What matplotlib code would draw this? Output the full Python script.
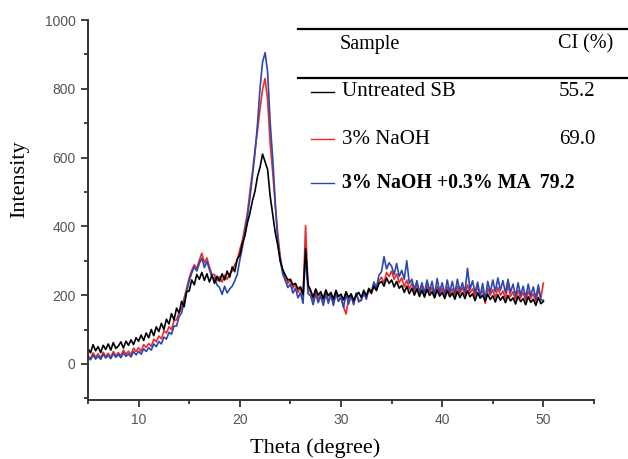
import numpy as np
import matplotlib.pyplot as plt

# XRD patterns, 2-theta from 5 to 50 in 0.25 steps
theta = np.linspace(5, 50, 181)

untreated = [
    45, 32, 56, 38, 50, 33, 54, 42, 58, 40, 62, 45, 52, 64, 46, 66, 54, 70, 56, 76,
    66, 84, 68, 90, 76, 100, 82, 108, 94, 118, 100, 130, 116, 146, 128, 162,
    148, 182, 166, 210, 212, 244, 230, 260, 246, 266, 243, 262, 238, 258, 234, 255,
    240, 262, 244, 270, 252, 282, 268, 305, 316, 350, 372, 410, 438, 475, 502, 545,
    572, 610, 588, 565, 488, 435, 382, 345, 298, 274, 258, 244, 246, 230, 234, 218,
    224, 202, 335, 230, 214, 194, 218, 200, 210, 190, 215, 198, 208, 188, 214, 196,
    203, 186, 210, 193, 204, 184, 200, 208, 193, 214, 198, 218, 206, 226, 213, 234,
    240, 226, 250, 234, 244, 224, 240, 220, 228, 208, 226, 204, 220, 200, 218, 196,
    214, 194, 217, 199, 210, 192, 215, 197, 208, 190, 213, 195, 206, 188, 211, 193,
    207, 190, 213, 195, 204, 184, 207, 191, 200, 182, 203, 187, 198, 180, 201, 185,
    196, 178, 199, 183, 192, 174, 197, 181, 190, 172, 195, 179, 188, 170, 193, 175,
    182]

naoh = [
    24, 15, 32, 20, 29, 17, 34, 22, 31, 19, 36, 24, 33, 23, 40, 28, 37, 27, 46, 36,
    47, 37, 56, 48, 59, 51, 72, 64, 81, 73, 96, 90, 108, 100, 126, 128,
    150, 160, 192, 220, 250, 272, 288, 278, 302, 322, 294, 308, 282, 260, 260, 242,
    254, 238, 258, 246, 262, 270, 288, 303, 332, 358, 398, 438, 502, 558, 622, 678,
    742, 798, 830, 768, 642, 558, 462, 378, 312, 268, 254, 234, 244, 220, 232, 208,
    220, 196, 402, 218, 208, 184, 214, 188, 204, 178, 208, 184, 200, 174, 204, 182,
    196, 166, 145, 190, 200, 176, 204, 186, 184, 206, 190, 216, 204, 228, 216, 242,
    252, 236, 266, 254, 270, 246, 262, 236, 250, 224, 244, 218, 234, 210, 230, 204,
    226, 200, 230, 208, 222, 196, 226, 204, 220, 194, 224, 202, 218, 196, 226, 204,
    222, 200, 230, 206, 218, 196, 224, 202, 214, 176, 220, 200, 216, 192, 222, 200,
    212, 190, 230, 196, 210, 186, 214, 192, 208, 184, 212, 190, 204, 182, 216, 192,
    235]

naoh_ma = [
    18, 12, 26, 14, 23, 13, 28, 17, 25, 15, 30, 19, 27, 18, 32, 22, 29, 20, 36, 26,
    37, 28, 44, 36, 47, 40, 58, 50, 65, 58, 78, 72, 92, 86, 110, 110,
    138, 148, 182, 210, 242, 264, 282, 270, 292, 308, 280, 298, 274, 252, 250, 230,
    222, 202, 226, 206, 218, 226, 242, 260, 302, 338, 382, 428, 482, 548, 612, 698,
    802, 878, 905, 848, 702, 598, 472, 358, 302, 260, 242, 222, 232, 206, 220, 192,
    207, 176, 320, 204, 198, 172, 204, 178, 198, 170, 204, 176, 202, 170, 208, 182,
    194, 164, 204, 174, 198, 172, 206, 180, 186, 208, 188, 220, 210, 238, 222, 258,
    268, 312, 276, 294, 284, 260, 292, 254, 272, 246, 300, 234, 246, 216, 242, 208,
    236, 206, 244, 212, 240, 200, 248, 210, 236, 202, 244, 208, 240, 204, 246, 212,
    236, 208, 278, 216, 242, 206, 238, 196, 234, 186, 240, 208, 244, 210, 250, 214,
    242, 206, 246, 208, 232, 196, 236, 200, 226, 192, 232, 198, 224, 190, 230, 186,
    185]

samples = ["Untreated SB", "3% NaOH", "3% NaOH +0.3% MA  79.2"]
ci_values = ["55.2", "69.0", ""]
colors = ["#000000", "#ee2a2a", "#2a48b0"]

fig = plt.figure(figsize=(6.28, 4.59), dpi=100)
ax = fig.add_axes([88/628, 1-400/459, (594-88)/628, 380/459])

ax.plot(theta, naoh, color=colors[1], lw=1.2)
ax.plot(theta, naoh_ma, color=colors[2], lw=1.2)
ax.plot(theta, untreated, color=colors[0], lw=1.2)

ax.set_xlim(5, 55)
ax.set_ylim(-105, 1000)
ax.set_xticks([10, 20, 30, 40, 50])
ax.set_xticks([5, 15, 25, 35, 45, 55], minor=True)
ax.set_yticks([0, 200, 400, 600, 800, 1000])
ax.set_yticks([-100, 100, 300, 500, 700, 900], minor=True)
for s in ['top', 'right']:
    ax.spines[s].set_visible(False)
for s in ['left', 'bottom']:
    ax.spines[s].set_color('#333333')
    ax.spines[s].set_linewidth(1.4)
ax.tick_params(which='major', length=5, width=1.3, color='#333333',
               labelsize=10, labelcolor='#555555', pad=4)
ax.tick_params(which='minor', length=3, width=1.3, color='#333333')
for lab in ax.get_xticklabels() + ax.get_yticklabels():
    lab.set_family('Liberation Sans')

serif = 'Liberation Serif'
fig.text(20/628, 1-179/459, "Intensity", rotation=90, ha='center', va='center',
         family=serif, fontsize=16)
fig.text(315/628, 1-453/459, "Theta (degree)", ha='center', va='baseline',
         family=serif, fontsize=16)

# legend table drawn in pixel coordinates
ov = fig.add_axes([0, 0, 1, 1])
ov.set_xlim(0, 628)
ov.set_ylim(459, 0)
ov.axis('off')
ov.plot([298, 628], [29, 29], color='black', lw=1.6)
ov.plot([298, 628], [78, 78], color='black', lw=1.6)
ov.text(340, 44, "Sample", family=serif, fontsize=14.5, va='center')
ov.text(558, 44, "CI (%)", family=serif, fontsize=14.5, va='center')
rows_y = [92, 139, 183]
for i in range(3):
    ov.plot([311, 334], [rows_y[i], rows_y[i]], color=colors[i], lw=1.0)
    w = 'bold' if i == 2 else 'normal'
    fs = 14.3 if i == 2 else 15
    ov.text(342, rows_y[i], samples[i], family=serif, fontsize=fs, va='center',
            fontweight=w)
    if ci_values[i]:
        ov.text(559, rows_y[i], ci_values[i], family=serif, fontsize=15, va='center')

fig.savefig('out.png', dpi=100)
